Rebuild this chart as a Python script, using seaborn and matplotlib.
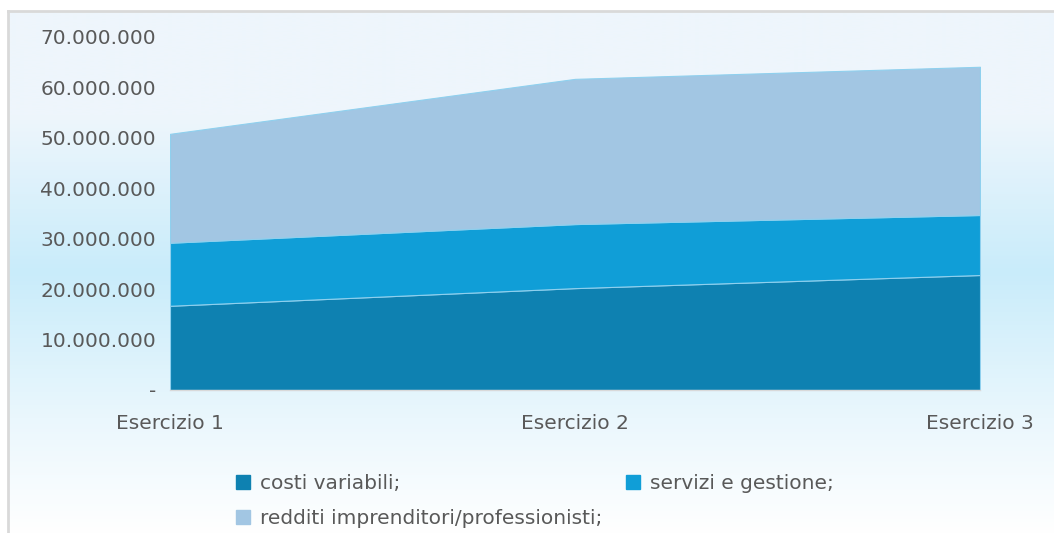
import numpy as np
import pandas as pd
import matplotlib
matplotlib.use("Agg")
import matplotlib.pyplot as plt
import seaborn as sns
from matplotlib.colors import LinearSegmentedColormap
from matplotlib.lines import Line2D

categories = ["Esercizio 1", "Esercizio 2", "Esercizio 3"]
costi_variabili = [16.7e6, 20.2e6, 22.8e6]
servizi_gestione = [12.5e6, 12.7e6, 11.9e6]
redditi = [21.6e6, 28.8e6, 29.4e6]
series_names = ["costi variabili;", "servizi e gestione;",
                "redditi imprenditori/professionisti;"]
yticks = [0, 10e6, 20e6, 30e6, 40e6, 50e6, 60e6, 70e6]
ytick_labels = ["-", "10.000.000", "20.000.000", "30.000.000",
                "40.000.000", "50.000.000", "60.000.000", "70.000.000"]

df = pd.DataFrame({series_names[0]: costi_variabili,
                   series_names[1]: servizi_gestione,
                   series_names[2]: redditi}, index=categories)

sns.set_theme(style="white")
plt.rcParams["font.family"] = ["DejaVu Sans"]
colors = ["#0E81B1", "#109ED7", "#A2C6E3"]
text_col = "#595959"

fig = plt.figure(figsize=(10.54, 5.33), dpi=100)
fig.patch.set_facecolor("white")

# gradient background of the chart area
bg = fig.add_axes([8 / 1054, 0, 1, 522 / 533])
cmap = LinearSegmentedColormap.from_list(
    "bg", [(0, "#EEF5FC"), (0.2, "#EEF6FC"), (0.5, "#C9ECFA"),
           (0.78, "#EAF7FD"), (1, "#FFFFFF")], N=2048)
grad = np.linspace(0, 1, 2048).reshape(-1, 1)
bg.imshow(grad, aspect="auto", cmap=cmap, extent=[0, 1, 1, 0],
          interpolation="bilinear")
bg.set_xlim(0, 1)
bg.set_ylim(1, 0)
bg.set_xticks([])
bg.set_yticks([])
for side in ["right", "bottom"]:
    bg.spines[side].set_visible(False)
for side in ["left", "top"]:
    bg.spines[side].set_color("#D9D9D9")
    bg.spines[side].set_linewidth(2)

ax = fig.add_axes([170 / 1054, 1 - 390 / 533, 810 / 1054, 353 / 533])
ax.patch.set_alpha(0)
x = np.arange(len(categories))
ax.stackplot(x, df.T.values, colors=colors, edgecolor="#8FD0EE", linewidth=0.8)
ax.set_xlim(0, len(categories) - 1)
ax.set_ylim(0, 70e6)
ax.set_xticks(x)
ax.set_xticklabels(categories, fontsize=14.5, color=text_col)
ax.set_yticks(yticks)
ax.set_yticklabels(ytick_labels, fontsize=14.5, color=text_col)
ax.tick_params(axis="y", length=0, pad=10)
ax.tick_params(axis="x", length=11, width=1, color="#D9D9D9", direction="out", pad=6)
for side in ["top", "right", "left"]:
    ax.spines[side].set_visible(False)
ax.spines["bottom"].set_color("#D9D9D9")
ax.spines["bottom"].set_linewidth(1)

handles = [Line2D([], [], marker="s", linestyle="none", markersize=10,
                  markerfacecolor=c, markeredgecolor=c) for c in colors]
# legend fills column-wise; order so rows read costi, servizi / redditi
order = [0, 2, 1]
fig.legend([handles[i] for i in order], [series_names[i] for i in order],
           ncol=2, loc="upper left",
           bbox_to_anchor=(235 / 1054, 1 - 474 / 533), frameon=False,
           fontsize=14.5, labelcolor=text_col, handletextpad=0.45,
           columnspacing=1.1, handlelength=0.8, labelspacing=0.8,
           borderaxespad=0, borderpad=0)

fig.savefig("out.png", dpi=100)
